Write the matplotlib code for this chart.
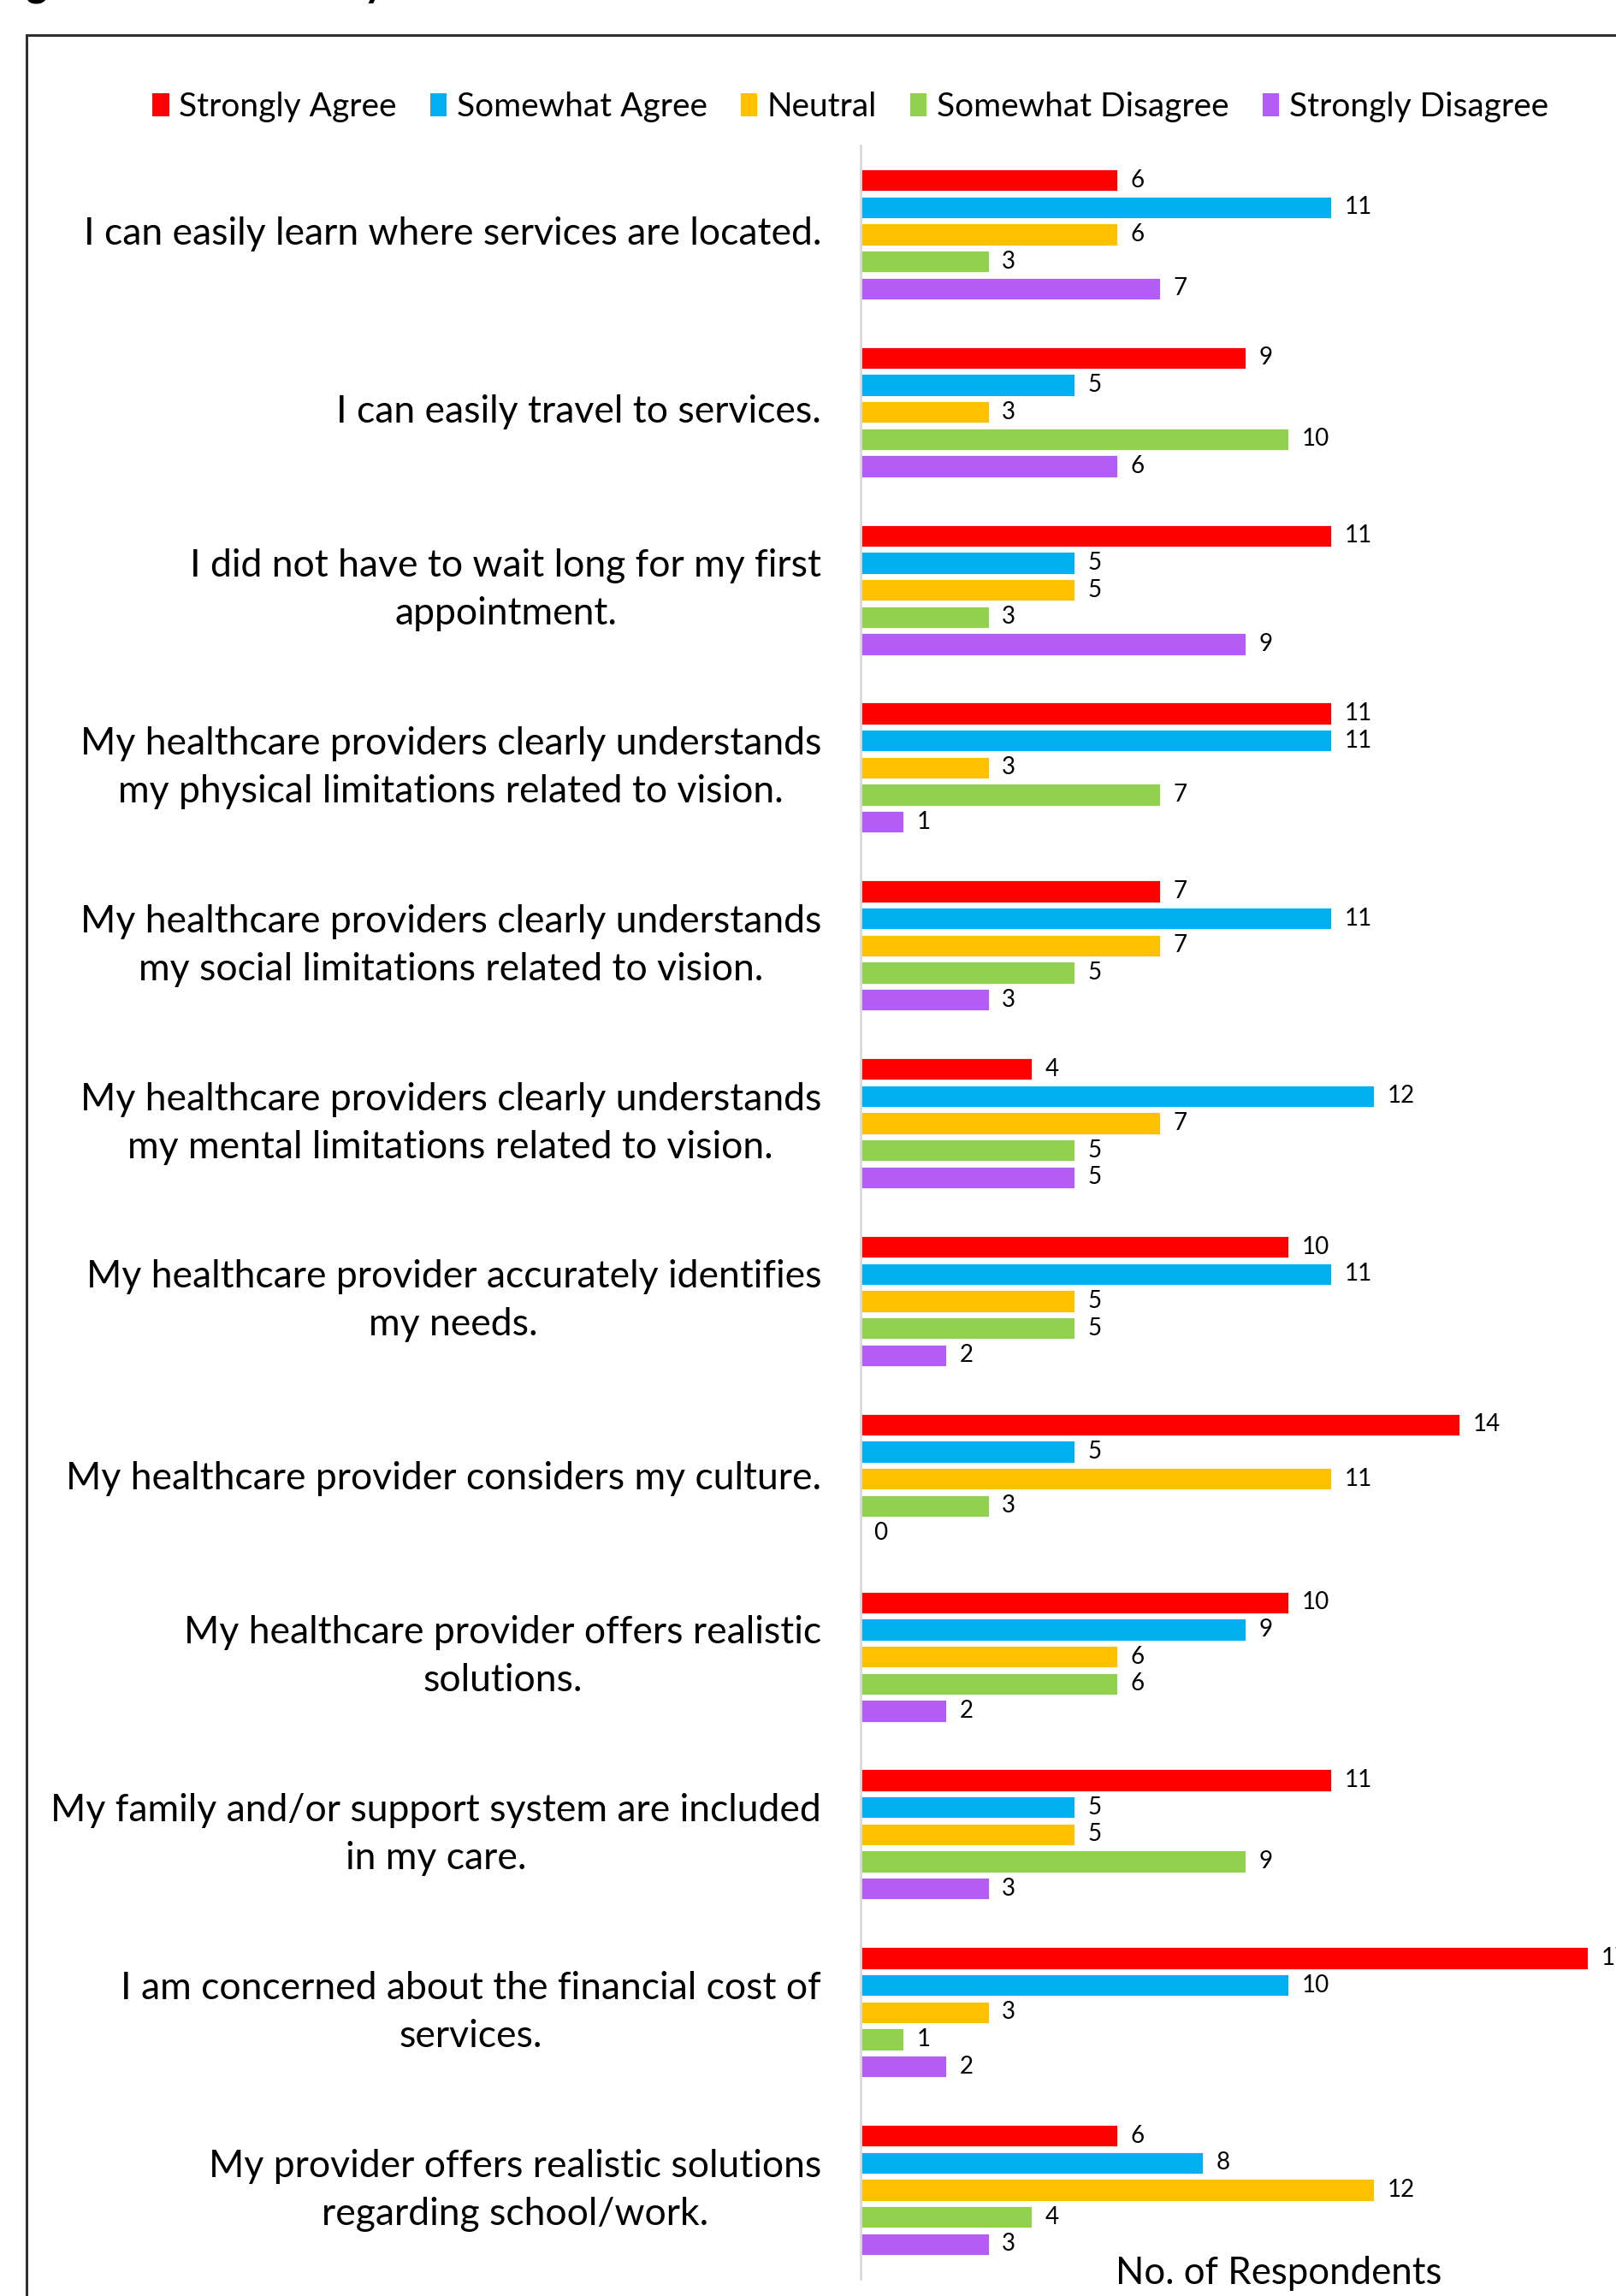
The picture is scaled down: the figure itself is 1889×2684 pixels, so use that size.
import matplotlib
matplotlib.use('Agg')
import matplotlib.pyplot as plt
from matplotlib.patches import Rectangle, Patch
import numpy as np

plt.rcParams['font.family'] = ['Lato', 'DejaVu Sans']

# data
statements = [
    "I can easily learn where services are located.",
    "I can easily travel to services.",
    "I did not have to wait long for my first\nappointment.",
    "My healthcare providers clearly understands\nmy physical limitations related to vision.",
    "My healthcare providers clearly understands\nmy social limitations related to vision.",
    "My healthcare providers clearly understands\nmy mental limitations related to vision.",
    "My healthcare provider accurately identifies\nmy needs.",
    "My healthcare provider considers my culture.",
    "My healthcare provider offers realistic\nsolutions.",
    "My family and/or support system are included\nin my care.",
    "I am concerned about the financial cost of\nservices.",
    "My provider offers realistic solutions\nregarding school/work.",
]
responses = ["Strongly Agree", "Somewhat Agree", "Neutral", "Somewhat Disagree", "Strongly Disagree"]
strongly_agree    = [6, 9, 11, 11, 7, 4, 10, 14, 10, 11, 17, 6]
somewhat_agree    = [11, 5, 5, 11, 11, 12, 11, 5, 9, 5, 10, 8]
neutral           = [6, 3, 5, 3, 7, 7, 5, 11, 6, 5, 3, 12]
somewhat_disagree = [3, 10, 3, 7, 5, 5, 5, 3, 6, 9, 1, 4]
strongly_disagree = [7, 6, 9, 1, 3, 5, 2, 0, 2, 3, 2, 3]
colors = ['#FF0000', '#00B0F0', '#FFC000', '#92D050', '#B35CF6']

W, H = 1889, 2684
fig = plt.figure(figsize=(W / 100, H / 100), dpi=100)

# axes: zero line at x=1006px, 50px per respondent, runs past the right edge
x0, top, bot = 1006, 170, 2664
ax = fig.add_axes([x0 / W, 1 - bot / H, 900 / W, (bot - top) / H])
ax.set_xlim(0, 18)
ax.set_ylim(len(statements) - 0.5, -0.5)

series = [strongly_agree, somewhat_agree, neutral, somewhat_disagree, strongly_disagree]
step = 0.1525
groups = np.arange(len(statements))
for k, (vals, c) in enumerate(zip(series, colors)):
    bars = ax.barh(groups + (k - 2) * step, vals, height=0.122, color=c,
                   edgecolor='white', linewidth=0.6, label=responses[k])
    ax.bar_label(bars, padding=11, fontsize=20, color='black')

for s in ['top', 'right', 'bottom']:
    ax.spines[s].set_visible(False)
ax.spines['left'].set_color('#D9D9D9')
ax.spines['left'].set_linewidth(2)
ax.set_xticks([])
ax.set_yticks([])

for g, lab in enumerate(statements):
    ax.annotate(lab, xy=(0, g), xycoords='data', xytext=(-46, 0), textcoords='offset pixels',
                ha='right', va='center', multialignment='center', fontsize=32,
                linespacing=1.45, color='black', annotation_clip=False)

fig.text(1495 / W, 1 - 2657 / H, "No. of Respondents", ha='center', va='center', fontsize=31.5)

handles = [Patch(facecolor=c, edgecolor='none') for c in colors]
fig.legend(handles, responses, loc='center', bbox_to_anchor=(994 / W, 1 - 125 / H), ncol=5,
           frameon=False, fontsize=28, handlelength=0.5, handleheight=0.7,
           handletextpad=0.3, columnspacing=1.0)

# chart frame, cropped at right and bottom
fig.add_artist(Rectangle((31 / W, -0.05), 1.2, 1.05 - 41 / H, transform=fig.transFigure,
                         fill=False, edgecolor='#303030', linewidth=2.2))

# cropped title above the frame
fig.text(-8 / W, 1 + 4 / H, "Figure 7: Accessibility of Services", ha='left', va='baseline',
         fontsize=34, fontweight='bold')

fig.savefig('out.png', dpi=100)
